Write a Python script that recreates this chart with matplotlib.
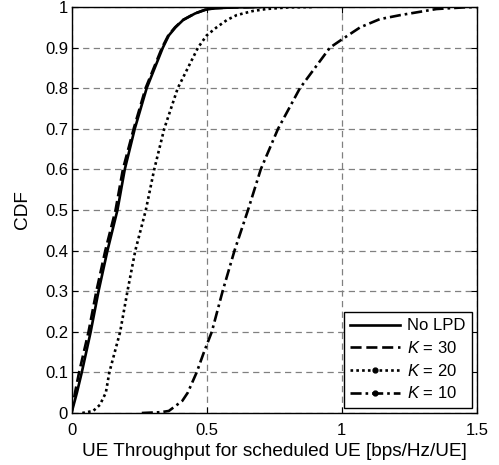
import matplotlib
matplotlib.use("Agg")
import matplotlib.pyplot as plt
from matplotlib.lines import Line2D

plt.rcParams['font.family'] = ['Liberation Sans', 'DejaVu Sans']
plt.rcParams['mathtext.fontset'] = 'custom'
plt.rcParams['mathtext.it'] = 'Liberation Sans:italic'
plt.rcParams['mathtext.rm'] = 'Liberation Sans'

# CDF levels (y) and throughput (x) for each scheme
nolpd_x = [0.0, 0.02, 0.038, 0.071, 0.10, 0.133, 0.17, 0.197, 0.234, 0.278, 0.338, 0.36, 0.385, 0.413, 0.457, 0.494, 0.53, 0.60, 0.7]
nolpd_y = [0.0, 0.05, 0.1, 0.2, 0.3, 0.4, 0.5, 0.6, 0.7, 0.8, 0.9, 0.93, 0.95, 0.968, 0.984, 0.993, 0.997, 0.999, 1.0]

k30_x = [0.0, 0.013, 0.028, 0.063, 0.092, 0.125, 0.163, 0.19, 0.23, 0.274, 0.335, 0.358, 0.383, 0.412, 0.456, 0.494, 0.53, 0.60, 0.7]
k30_y = [0.0, 0.05, 0.1, 0.2, 0.3, 0.4, 0.5, 0.6, 0.7, 0.8, 0.9, 0.93, 0.95, 0.968, 0.984, 0.993, 0.997, 0.999, 1.0]

k20_x = [0.04, 0.08, 0.105, 0.127, 0.14, 0.18, 0.207, 0.236, 0.275, 0.306, 0.343, 0.393, 0.468, 0.50, 0.537, 0.575, 0.611, 0.67, 0.72, 0.80, 0.9]
k20_y = [0.0, 0.005, 0.02, 0.05, 0.1, 0.2, 0.3, 0.4, 0.5, 0.6, 0.7, 0.8, 0.9, 0.93, 0.95, 0.968, 0.98, 0.99, 0.995, 0.999, 1.0]

k10_x = [0.26, 0.33, 0.36, 0.41, 0.43, 0.463, 0.49, 0.519, 0.559, 0.603, 0.653, 0.70, 0.764, 0.845, 0.956, 1.0, 1.068, 1.14, 1.216, 1.35, 1.45, 1.5]
k10_y = [0.0, 0.002, 0.005, 0.03, 0.05, 0.1, 0.15, 0.2, 0.3, 0.4, 0.5, 0.6, 0.7, 0.8, 0.9, 0.92, 0.95, 0.97, 0.98, 0.995, 0.999, 1.0]

labels = ['No LPD', r'$K$ = 30', r'$K$ = 20', r'$K$ = 10']
xticks = [0, 0.5, 1, 1.5]
xticklabels = ['0', '0.5', '1', '1.5']
yticks = [0, 0.1, 0.2, 0.3, 0.4, 0.5, 0.6, 0.7, 0.8, 0.9, 1]
yticklabels = ['0', '0.1', '0.2', '0.3', '0.4', '0.5', '0.6', '0.7', '0.8', '0.9', '1']

fig = plt.figure(figsize=(4.99, 4.65), dpi=100)
ax = fig.add_axes([71.5 / 499, 52 / 465, 405.5 / 499, 406 / 465])

lw = 1.9
ax.plot(nolpd_x, nolpd_y, color='black', lw=lw, ls='-')
ax.plot(k30_x, k30_y, color='black', lw=lw, ls=(0, (4.2, 1.8)))
ax.plot(k20_x, k20_y, color='black', lw=lw, ls=(0, (1, 1.2)))
ax.plot(k10_x, k10_y, color='black', lw=lw, ls=(0, (4.2, 1.5, 1, 1.5)))

ax.set_xlim(0, 1.5)
ax.set_ylim(0, 1)
ax.set_xticks(xticks)
ax.set_xticklabels(xticklabels)
ax.set_yticks(yticks)
ax.set_yticklabels(yticklabels)
ax.tick_params(direction='in', top=True, right=True, labelsize=12, length=4, color='black')
ax.tick_params(axis='x', pad=7)
ax.tick_params(axis='y', pad=2.5)
ax.grid(True, color='#808080', ls=(0, (5, 3.5)), lw=0.9)
for s in ax.spines.values():
    s.set_linewidth(1.0)
    s.set_color('black')

ax.set_xlabel('UE Throughput for scheduled UE [bps/Hz/UE]', fontsize=13.7, labelpad=4)
ax.set_ylabel('CDF', fontsize=13.7, labelpad=10)

handles = [
    Line2D([], [], color='black', lw=lw, ls='-'),
    Line2D([], [], color='black', lw=lw, ls=(0, (4.2, 1.8))),
    Line2D([], [], color='black', lw=lw, ls=(0, (1, 1.2)), marker='.', markersize=7),
    Line2D([], [], color='black', lw=lw, ls=(0, (4.2, 1.5, 1, 1.5)), marker='.', markersize=7),
]
leg = ax.legend(handles, labels, loc='lower right', fontsize=12, numpoints=1,
                fancybox=False, framealpha=1, edgecolor='black', borderpad=0.4,
                handlelength=3.0, handletextpad=0.4, labelspacing=0.4,
                borderaxespad=0.3)
leg.get_frame().set_linewidth(1.0)

fig.savefig('out.png', dpi=100)
